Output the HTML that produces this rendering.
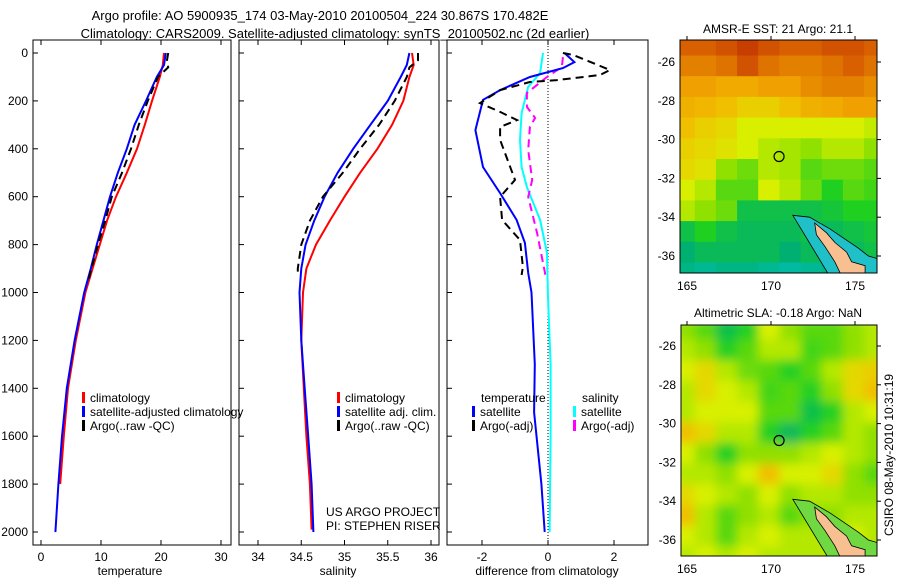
<!DOCTYPE html>
<html><head><meta charset="utf-8"><style>
body{margin:0;background:#fff}
svg{display:block;font-family:"Liberation Sans",sans-serif}
</style></head><body>
<svg id="fig" width="900" height="580" viewBox="0 0 900 580" xmlns="http://www.w3.org/2000/svg">
<defs>
<filter id="blur" x="-0.1" y="-0.1" width="1.2" height="1.2"><feGaussianBlur stdDeviation="5"/></filter>
<clipPath id="cm1"><rect x="680" y="40" width="197" height="233"/></clipPath>
<clipPath id="cm2"><rect x="681" y="325" width="196" height="231"/></clipPath>
<clipPath id="cp1"><rect x="33" y="40" width="198" height="505"/></clipPath>
<clipPath id="cp2"><rect x="239" y="40" width="200" height="505"/></clipPath>
<clipPath id="cp3"><rect x="447" y="40" width="201" height="505"/></clipPath>
</defs>
<text x="320" y="20" font-size="13" text-anchor="middle">Argo profile: AO 5900935_174 03-May-2010 20100504_224 30.867S 170.482E</text>
<text x="335" y="38" font-size="13" text-anchor="middle">Climatology: CARS2009. Satellite-adjusted climatology: synTS_20100502.nc (2d earlier)</text>
<g id="g1" clip-path="url(#cp1)"></g>
<g id="g2" clip-path="url(#cp2)"></g>
<g id="g3" clip-path="url(#cp3)"></g>
<g id="m1" clip-path="url(#cm1)"></g>
<g id="m2" clip-path="url(#cm2)"></g>
<g id="axes"></g>
<text x="778" y="33" font-size="12" text-anchor="middle">AMSR-E SST: 21 Argo: 21.1</text>
<text x="778" y="317" font-size="12" text-anchor="middle">Altimetric SLA: -0.18 Argo: NaN</text>
<text transform="translate(893,455) rotate(-90)" font-size="12" text-anchor="middle">CSIRO 08-May-2010 10:31:19</text>
<text x="130" y="575" font-size="12" text-anchor="middle">temperature</text>
<text x="338" y="575" font-size="12" text-anchor="middle">salinity</text>
<text x="547" y="575" font-size="12" text-anchor="middle">difference from climatology</text>
<text x="326" y="516" font-size="12">US ARGO PROJECT</text>
<text x="326" y="530" font-size="12">PI: STEPHEN RISER</text>
</svg>
<script>
// ---- data ----
const tempClimDepth=[0,50,100,200,300,400,500,600,700,800,900,1000,1200,1400,1600,1800];
const tempClim=[20.5,20.3,19.8,18.5,17.3,16,14.3,12.5,11,9.8,8.6,7.4,5.8,4.5,3.8,3.2];
const tempSatDepth=[0,50,100,200,300,400,500,600,700,800,900,1000,1200,1400,1600,1800,2000];
const tempSat=[20.8,20.5,19.3,17.5,15.6,14.3,12.8,11.5,10.4,9.3,8.3,7.2,5.6,4.3,3.5,2.9,2.4];
const tempArgoDepth=[0,30,60,100,200,300,400,500,600,700,800,900,950];
const tempArgo=[21.2,21,21.2,19.5,17.8,16.3,15,13.5,11.8,10.7,9.5,8.4,7.9];
const salClimDepth=[0,50,100,200,300,400,500,600,700,800,900,1000,1200,1400,1600,1800,1990];
const salClim=[35.78,35.8,35.75,35.68,35.55,35.38,35.18,35.0,34.83,34.67,34.56,34.52,34.5,34.53,34.56,34.6,34.62];
const salSatDepth=[0,50,100,200,300,400,500,600,700,800,900,1000,1200,1400,1600,1800,2000];
const salSat=[35.75,35.72,35.65,35.5,35.3,35.1,34.92,34.77,34.65,34.55,34.5,34.48,34.5,34.54,34.58,34.62,34.64];
const salArgoDepth=[0,30,60,100,200,300,400,500,600,700,800,900,930];
const salArgo=[35.85,35.85,35.75,35.72,35.58,35.4,35.18,34.98,34.75,34.6,34.5,34.46,34.46];
const dTempSatDepth=[0,38,63,100,155,196,322,476,585,697,793,918,1000,1300,1500,1800,2000];
const dTempSat=[0.5,0.8,0.45,-0.55,-1.45,-1.97,-2.2,-1.97,-1.45,-0.95,-0.7,-0.6,-0.5,-0.4,-0.42,-0.2,-0.1];
const dTempArgoDepth=[0,8,71,92,113,121,155,209,246,280,309,363,530,601,697,781,893,927];
const dTempArgo=[0.45,0.76,1.88,1.58,0.27,-0.55,-1.45,-2.06,-1.45,-0.94,-1.45,-1.45,-1.0,-1.45,-1.39,-0.85,-0.76,-0.8];
const dSalSatDepth=[0,84,141,251,363,476,560,697,835,1019,1300,1600,2000];
const dSalSat=[-0.15,-0.24,-0.6,-0.8,-0.85,-0.8,-0.64,-0.24,-0.03,0,0.08,0.08,0.05];
const dSalArgoDepth=[17,58,100,167,225,271,309,405,530,601,752,918,940];
const dSalArgo=[0.45,0.42,-0.03,-0.64,-0.64,-0.39,-0.55,-0.6,-0.48,-0.6,-0.33,-0.09,-0.08];
const depthTicks=[0,200,400,600,800,1000,1200,1400,1600,1800,2000];
const tempTicks=[0,10,20,30];
const salTicks=[34,34.5,35,35.5,36];
const diffTicks=[-2,0,2];
const lonTicks=[165,170,175];
const latTicks=[-26,-28,-30,-32,-34,-36];
const sstGrid=[
[0.85,0.85,0.88,0.92,0.88,0.85,0.85,0.88,0.88,0.85],
[0.8,0.8,0.82,0.88,0.82,0.8,0.8,0.82,0.85,0.82],
[0.75,0.75,0.72,0.72,0.75,0.75,0.78,0.8,0.8,0.78],
[0.7,0.68,0.65,0.62,0.62,0.65,0.7,0.72,0.75,0.75],
[0.65,0.62,0.6,0.55,0.55,0.55,0.55,0.55,0.55,0.52],
[0.62,0.6,0.58,0.55,0.5,0.48,0.45,0.5,0.5,0.45],
[0.6,0.58,0.45,0.42,0.5,0.48,0.4,0.42,0.42,0.4],
[0.55,0.5,0.4,0.4,0.55,0.5,0.42,0.35,0.4,0.38],
[0.5,0.45,0.42,0.3,0.3,0.3,0.3,0.32,0.35,0.35],
[0.3,0.35,0.3,0.28,0.28,0.28,0.3,0.28,0.3,0.32],
[0.25,0.28,0.28,0.28,0.28,0.25,0.28,0.28,0.28,0.3],
[0.22,0.2,0.22,0.22,0.2,0.18,0.2,0.22,0.25,0.25]];
const slaGrid=[
[0.45,0.4,0.3,0.35,0.55,0.45,0.4,0.4,0.45,0.5],
[0.5,0.45,0.35,0.4,0.5,0.5,0.38,0.4,0.45,0.5],
[0.55,0.6,0.5,0.42,0.4,0.35,0.4,0.5,0.6,0.62],
[0.5,0.6,0.55,0.5,0.38,0.4,0.35,0.45,0.6,0.65],
[0.5,0.55,0.55,0.55,0.4,0.4,0.3,0.35,0.5,0.55],
[0.65,0.6,0.5,0.5,0.35,0.28,0.35,0.4,0.5,0.45],
[0.55,0.45,0.35,0.45,0.45,0.45,0.5,0.55,0.5,0.45],
[0.5,0.5,0.45,0.55,0.65,0.55,0.55,0.6,0.45,0.4],
[0.6,0.55,0.5,0.45,0.55,0.45,0.5,0.5,0.45,0.45],
[0.65,0.5,0.4,0.45,0.5,0.4,0.45,0.45,0.5,0.5],
[0.55,0.5,0.4,0.5,0.55,0.5,0.5,0.5,0.55,0.5],
[0.5,0.55,0.5,0.55,0.5,0.5,0.5,0.5,0.55,0.5]];
const landLon=[172.6,173.3,173.8,174.5,174.8,175.6,175.6,174.3,173.8,173.2,172.7];
const landLat=[-34.3,-34.8,-35.3,-35.8,-36.3,-36.5,-37.2,-37.2,-36.3,-35.5,-34.9];
const shelfLon=[171.3,172.3,173.5,175.2,175.8,176.6,176.6,173.6];
const shelfLat=[-33.9,-34.0,-34.6,-35.6,-36.0,-36.2,-37.2,-37.2];
const floatLon=170.48, floatLat=-30.87;

// ---- scales ----
const NS="http://www.w3.org/2000/svg";
const yD=d=>53+d*0.2395;
const xT=t=>41+t*6;
const xS=s=>258+(s-34)*86.5;
const xDf=v=>548+v*33;
function mk(tag,parent,attrs){const e=document.createElementNS(NS,tag);for(const k in attrs)e.setAttribute(k,attrs[k]);parent.appendChild(e);return e;}
function line(g,xs,ds,xf,color,dash,name){
  const pts=xs.map((v,i)=>xf(v).toFixed(1)+','+yD(ds[i]).toFixed(1)).join(' ');
  const p=mk('polyline',document.getElementById(g),{points:pts,fill:'none',stroke:color,'stroke-width':2,'stroke-dasharray':dash||'none'});
  
  
}
line('g1',tempClim,tempClimDepth,xT,'#f00','','temp-climatology-line');
line('g1',tempSat,tempSatDepth,xT,'#00f','','temp-satellite-line');
line('g1',tempArgo,tempArgoDepth,xT,'#000','8,5','temp-argo-line');
line('g2',salClim,salClimDepth,xS,'#f00','','sal-climatology-line');
line('g2',salSat,salSatDepth,xS,'#00f','','sal-satellite-line');
line('g2',salArgo,salArgoDepth,xS,'#000','8,5','sal-argo-line');
const zl=mk('line',document.getElementById('g3'),{x1:xDf(0),x2:xDf(0),y1:40,y2:545,stroke:'#000','stroke-dasharray':'1,2'});


line('g3',dSalSat,dSalSatDepth,xDf,'#0ff','','diff-sal-satellite-line');
line('g3',dSalArgo,dSalArgoDepth,xDf,'#f0f','8,5','diff-sal-argo-line');
line('g3',dTempSat,dTempSatDepth,xDf,'#00f','','diff-temp-satellite-line');
line('g3',dTempArgo,dTempArgoDepth,xDf,'#000','8,5','diff-temp-argo-line');

// ---- axes ----
const ax=document.getElementById('axes');
function frame(x0,y0,x1,y1,name){const r=mk('rect',ax,{x:x0,y:y0,width:x1-x0,height:y1-y0,fill:'none',stroke:'#000','stroke-width':1});
  
  }
function txt(x,y,s,anchor,name){const t=mk('text',ax,{x:x,y:y,'font-size':12,'text-anchor':anchor});t.textContent=s;
  
  }
const panels=[[33,231,tempTicks,xT],[239,439,salTicks,xS],[447,648,diffTicks,xDf]];
panels.forEach((p,pi)=>{
  frame(p[0],40,p[1],545,'profile-panel-'+(pi+1));
  depthTicks.forEach(d=>{const y=yD(d);
    mk('line',ax,{x1:p[0],x2:p[0]+5,y1:y,y2:y,stroke:'#000'});
    if(pi==0)txt(28,y+4,String(d),'end','depth-tick-label');});
  p[2].forEach(v=>{const x=p[3](v);
    mk('line',ax,{x1:x,x2:x,y1:545,y2:540,stroke:'#000'});
    mk('line',ax,{x1:x,x2:x,y1:40,y2:45,stroke:'#000'});
    txt(x,561,String(v),'middle','x-tick-label');});
});
// maps
const lonX=lon=>687+(lon-165)*16.8;
function cmap(v){const st=[[0.1,[0,200,216]],[0.25,[0,176,112]],[0.35,[32,208,32]],[0.45,[144,224,0]],[0.55,[216,240,0]],[0.65,[240,192,0]],[0.75,[240,160,0]],[0.85,[216,96,0]],[0.95,[192,48,0]]];
  if(v<=st[0][0])return 'rgb('+st[0][1]+')';
  for(let i=1;i<st.length;i++){if(v<=st[i][0]){const f=(v-st[i-1][0])/(st[i][0]-st[i-1][0]);const c=st[i-1][1].map((a,k)=>Math.round(a+(st[i][1][k]-a)*f));return 'rgb('+c+')';}}
  return 'rgb('+st[st.length-1][1]+')';}
function map(gid,grid,x0,x1,y0,y1,lat26,lat36,blur,name){
  const g=document.getElementById(gid);
  const yL=lat=>lat26+(-26-lat)*(lat36-lat26)/10;
  const gg=mk('g',g,blur?{filter:'url(#blur)'}:{});
  const rows=grid.length,cols=grid[0].length;
  const lon0=164.2,lon1=176.8,la0=-24.6,la1=-37.4;
  const lonStep=(lon1-lon0)/cols, latStep=(la0-la1)/rows;
  grid.forEach((row,r)=>row.forEach((v,c)=>{
    const lx=lon0+c*lonStep, la=la0-r*latStep;
    const xa=lonX(lx), xb=lonX(lx+lonStep);
    const cell=mk('rect',gg,{x:xa.toFixed(1),y:yL(la).toFixed(1),width:(xb-xa+0.6).toFixed(1),height:(yL(la-latStep)-yL(la)+0.6).toFixed(1),fill:cmap(v)});
    
    
  }));
  const sh=mk('polygon',g,{points:shelfLon.map((l,i)=>lonX(l).toFixed(1)+','+yL(shelfLat[i]).toFixed(1)).join(' '),fill:blur?'#70d840':'#20c0c8',stroke:'#000','stroke-width':0.8});
  
  
  const ld=mk('polygon',g,{points:landLon.map((l,i)=>lonX(l).toFixed(1)+','+yL(landLat[i]).toFixed(1)).join(' '),fill:'#f8c090',stroke:'#000','stroke-width':0.8});
  
  
  const c=mk('circle',g,{cx:lonX(floatLon),cy:yL(floatLat),r:5,fill:'none',stroke:'#000','stroke-width':1.2});
  
  
  frame(x0,y0,x1,y1,name);
  latTicks.forEach(la=>{const y=yL(la);
    mk('line',ax,{x1:x1,x2:x1+4,y1:y,y2:y,stroke:'#000'});
    txt(x0-5,y+4,String(la),'end','lat-tick-label');});
  lonTicks.forEach(lo=>{const x=lonX(lo);
    mk('line',ax,{x1:x,x2:x,y1:y0,y2:y0-4,stroke:'#000'});
    txt(x,y1+17,String(lo),'middle','lon-tick-label');});
}
map('m1',sstGrid,680,877,40,273,62,256,false,'sst-map');
map('m2',slaGrid,681,877,325,556,346,540,true,'sla-map');

// legends
function leg(x,y,color,label,name){
  const r=mk('rect',ax,{x:x,y:y-10,width:3,height:11,fill:color});
  
  
  txt(x+8,y,label,'start',name);}
leg(82,402,'#f00','climatology','legend-climatology');
leg(82,416,'#00f','satellite-adjusted climatology','legend-satellite');
leg(82,430,'#000','Argo(..raw -QC)','legend-argo');
leg(337,402,'#f00','climatology','legend-sal-climatology');
leg(337,416,'#00f','satellite adj. clim.','legend-sal-satellite');
leg(337,430,'#000','Argo(..raw -QC)','legend-sal-argo');
txt(481,402,'temperature','start','legend-temperature-header');
txt(582,402,'salinity','start','legend-salinity-header');
leg(472,416,'#00f','satellite','legend-diff-temp-satellite');
leg(472,430,'#000','Argo(-adj)','legend-diff-temp-argo');
leg(573,416,'#0ff','satellite','legend-diff-sal-satellite');
leg(573,430,'#f0f','Argo(-adj)','legend-diff-sal-argo');
</script>
</body></html>
